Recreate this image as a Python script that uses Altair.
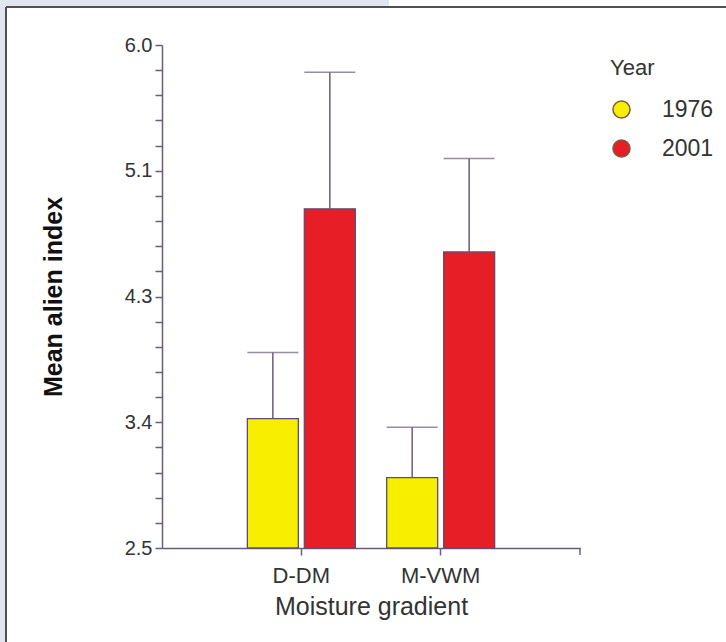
import altair as alt
import pandas as pd

gradients = ["D-DM", "D-DM", "M-VWM", "M-VWM"]
years = ["1976", "2001", "1976", "2001"]
means = [3.40, 4.86, 2.99, 4.56]
err_tops = [3.86, 5.81, 3.34, 5.21]

major_ticks = [2.5, 3.375, 4.25, 5.125, 6.0]
major_labels = ["2.5", "3.4", "4.3", "5.1", "6.0"]
minor_per_major = 5
y_min, y_max = 2.5, 6.0

df = pd.DataFrame({"gradient": gradients, "year": years, "mean": means, "err": err_tops})

step = (major_ticks[1] - major_ticks[0]) / minor_per_major
n_ticks = int(round((y_max - y_min) / step)) + 1
tick_vals = [round(y_min + i * step, 6) for i in range(n_ticks)]
lab_arr = []
for i in range(n_ticks):
    lab_arr.append(major_labels[i // minor_per_major] if i % minor_per_major == 0 else "")
label_expr = "[" + ",".join("'%s'" % s for s in lab_arr) + "][round((datum.value-%s)/%s)]" % (y_min, step)

FONT = "Liberation Sans"
AXC = "#6a5c7c"

xscale = alt.Scale(paddingInner=0.225, paddingOuter=0.6125)
xaxis = alt.Axis(labelAngle=0, domainColor=AXC, tickColor=AXC, tickSize=7,
                 domainWidth=1.5, tickWidth=1.5,
                 labelFontSize=22, labelColor="#333333", labelPadding=10,
                 titleFontSize=25, titleFontWeight="normal", titleColor="#333333",
                 titlePadding=8, labelFont=FONT, titleFont=FONT)
yaxis = alt.Axis(values=tick_vals, labelExpr=label_expr, grid=False,
                 labelOverlap=False, labelBound=False, labelFlush=False,
                 domainColor=AXC, tickColor=AXC, tickSize=7, domainWidth=1.5,
                 tickWidth=1.5, labelFontSize=20, labelColor="#333333",
                 labelPadding=3, titleFontSize=25, titleFontWeight="bold",
                 titleColor="#111111", titlePadding=58,
                 labelFont=FONT, titleFont=FONT)
xoff = alt.XOffset("year:N", scale=alt.Scale(paddingInner=0.105, paddingOuter=0))
yscale = alt.Scale(domain=[y_min, y_max], nice=False, zero=False)

def xenc():
    return alt.X("gradient:N", title="Moisture gradient", scale=xscale, axis=xaxis)

def yenc(field):
    return alt.Y(field, title="Mean alien index", scale=yscale, axis=yaxis)

bars = alt.Chart(df).mark_bar(stroke="#5b4d7a", strokeWidth=1.3).encode(
    x=xenc(),
    xOffset=xoff,
    y=yenc("mean:Q"),
    y2=alt.datum(y_min),
    color=alt.Color("year:N", title="Year",
                    scale=alt.Scale(domain=["1976", "2001"], range=["#f8ef00", "#e81e26"]),
                    legend=alt.Legend(orient="none", legendX=448, legendY=13,
                                      symbolType="circle", symbolSize=290,
                                      symbolStrokeColor="#7b5a3c", symbolStrokeWidth=1.5,
                                      labelFontSize=23, titleFontSize=22,
                                      titleFontWeight="normal", labelFont=FONT, titleFont=FONT,
                                      labelColor="#333333", titleColor="#333333",
                                      labelOffset=29, rowPadding=14, titlePadding=18)),
)

err_line = alt.Chart(df).mark_rule(color=AXC, strokeWidth=1.5).encode(
    x=xenc(), xOffset=xoff,
    y=yenc("mean:Q"), y2="err:Q")

caps = alt.Chart(df).mark_tick(color=AXC, thickness=1.5, size=51).encode(
    x=xenc(), xOffset=xoff,
    y=yenc("err:Q"))

end_tick = alt.Chart(pd.DataFrame({"a": [0]})).mark_rule(color=AXC, strokeWidth=1.5).encode(
    x=alt.value(418), y=alt.value(503), y2=alt.value(510))

# frame decoration
deco_df = pd.DataFrame({"a": [0]})
blue_top = alt.Chart(deco_df).mark_rect(color="#e0e5f0").encode(
    x=alt.value(-162), x2=alt.value(227), y=alt.value(-45), y2=alt.value(-39))
blue_left = alt.Chart(deco_df).mark_rect(color="#e0e5f0").encode(
    x=alt.value(-162), x2=alt.value(-157), y=alt.value(-45), y2=alt.value(597))
frame_top = alt.Chart(deco_df).mark_rule(color="#505050", strokeWidth=2).encode(
    x=alt.value(-156), x2=alt.value(564), y=alt.value(-38))
frame_left = alt.Chart(deco_df).mark_rule(color="#505050", strokeWidth=2).encode(
    x=alt.value(-156), y=alt.value(-38), y2=alt.value(597))

chart = alt.layer(bars, err_line, caps, end_tick,
                  blue_top, blue_left, frame_top, frame_left).properties(
    width=418, height=503,
    padding={"left": 162, "top": 45, "right": 146, "bottom": 94},
    autosize=alt.AutoSizeParams(type="none"),
    background="white",
).configure_view(stroke=None)

chart.save("out.html", embed_options={"renderer": "svg", "actions": False})
